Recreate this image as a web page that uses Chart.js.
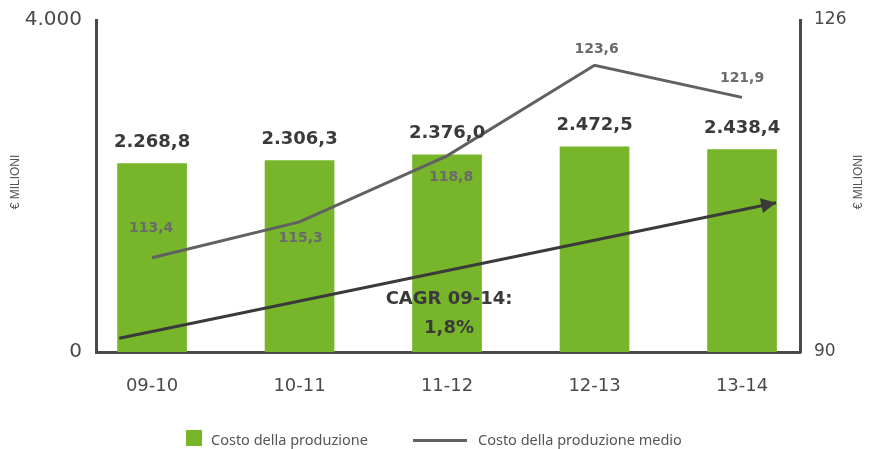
<!DOCTYPE html>
<html>
<head>
<meta charset="utf-8">
<script src="https://cdn.jsdelivr.net/npm/chart.js@4.4.1/dist/chart.umd.min.js"></script>
<style>
  html, body { margin: 0; padding: 0; background: #fff; }
  #wrap { position: relative; width: 869px; height: 449px; }
  .leg { position: absolute; font: 14.5px 'Noto Sans', sans-serif; color: #555; line-height: 20px; }
  .sq { position: absolute; left: 186px; top: 430px; width: 16px; height: 16px; background: #77b52a; }
  .ln { position: absolute; left: 413px; top: 439px; width: 54px; height: 3px; background: #616161; }
</style>
</head>
<body>
<div id="wrap">
  <canvas id="chart" width="869" height="449"></canvas>
  <div class="sq"></div>
  <div class="leg" style="left:211px;top:429px;">Costo della produzione</div>
  <div class="ln"></div>
  <div class="leg" style="left:478px;top:429px;">Costo della produzione medio</div>
</div>
<script>
// dati
const periodi = ['09-10', '10-11', '11-12', '12-13', '13-14'];
const costoProduzione = [2268.8, 2306.3, 2376.0, 2472.5, 2438.4];
const costoMedio = [113.4, 115.3, 118.8, 123.6, 121.9];
const tickSinistra = [0, 4000];
const tickDestra = [90, 126];
// freccia CAGR (in unità dei dati)
const cagrInizio = { x: -0.222, y: 165 };
const cagrFine = { x: 4.231, y: 1799 };
const cagrTesto = ['CAGR 09-14:', '1,8%'];

const COLORI = {
  verde: '#77b52a',
  linea: '#616161',
  scuro: '#3a3a3a',
  assi: '#4a4a4a',
  etichettaLinea: '#6a6a6a',
  testo: '#555'
};

// formato italiano: 2.268,8
function fmt(v, dec) {
  const parts = v.toFixed(dec).split('.');
  parts[0] = parts[0].replace(/\B(?=(\d{3})+(?!\d))/g, '.');
  return parts.join(',');
}

// spostamenti etichette della linea rispetto ai punti
const dxLinea = [-1, 1, 4, 2, 0];
const dyLinea = [-29, 17, 22, -16, -19];

const etichette = {
  id: 'etichette',
  afterDatasetsDraw(chart) {
    const ctx = chart.ctx;
    ctx.save();
    ctx.textAlign = 'center';
    ctx.textBaseline = 'middle';

    // valori sopra le barre
    ctx.font = 'bold 18px "DejaVu Sans"';
    ctx.fillStyle = COLORI.scuro;
    chart.getDatasetMeta(0).data.forEach((bar, i) => {
      ctx.fillText(fmt(costoProduzione[i], 1), bar.x, bar.y - 21);
    });

    // valori della linea
    ctx.font = 'bold 14px "DejaVu Sans"';
    ctx.fillStyle = COLORI.etichettaLinea;
    chart.getDatasetMeta(1).data.forEach((p, i) => {
      ctx.fillText(fmt(costoMedio[i], 1), p.x + dxLinea[i], p.y + dyLinea[i]);
    });

    // punta della freccia
    const pts = chart.getDatasetMeta(2).data;
    const a = pts[0], b = pts[1];
    const ang = Math.atan2(b.y - a.y, b.x - a.x);
    ctx.fillStyle = COLORI.scuro;
    ctx.translate(b.x, b.y);
    ctx.rotate(ang);
    ctx.beginPath();
    ctx.moveTo(0, 0);
    ctx.lineTo(-15, -7.5);
    ctx.lineTo(-15, 7.5);
    ctx.closePath();
    ctx.fill();
    ctx.setTransform(1, 0, 0, 1, 0, 0);

    // testo CAGR
    const sx = chart.scales.x, sy = chart.scales.y;
    ctx.font = 'bold 18px "DejaVu Sans"';
    ctx.fillStyle = COLORI.scuro;
    const cx = sx.getPixelForValue(2) + 2;
    const cy = sy.getPixelForValue(630);
    ctx.fillText(cagrTesto[0], cx, cy);
    ctx.fillText(cagrTesto[1], cx, cy + 29);

    // titoli degli assi
    ctx.font = '12px "Liberation Sans"';
    ctx.fillStyle = COLORI.testo;
    const midY = (chart.chartArea.top + chart.chartArea.bottom) / 2 - 4;
    [16, 859].forEach(x => {
      ctx.save();
      ctx.translate(x, midY);
      ctx.rotate(-Math.PI / 2);
      ctx.fillText('€ MILIONI', 0, 0);
      ctx.restore();
    });
    ctx.restore();
  }
};

const bordo = { display: true, color: COLORI.assi, width: 3 };

// dimensioni fisse degli assi, senza margini per le etichette
function fissa(prop, val) {
  return s => {
    s[prop] = val;
    s.paddingTop = 0; s.paddingBottom = 0;
    s.paddingLeft = 0; s.paddingRight = 0;
  };
}

new Chart(document.getElementById('chart'), {
  type: 'bar',
  data: {
    datasets: [
      {
        label: 'Costo della produzione',
        data: periodi.map((_, i) => ({ x: i, y: costoProduzione[i] })),
        backgroundColor: COLORI.verde,
        barThickness: 69,
        yAxisID: 'y',
        order: 3
      },
      {
        type: 'line',
        label: 'Costo della produzione medio',
        data: periodi.map((_, i) => ({ x: i, y: costoMedio[i] })),
        borderColor: COLORI.linea,
        borderWidth: 3,
        pointRadius: 0,
        tension: 0,
        yAxisID: 'y2',
        order: 1
      },
      {
        type: 'line',
        label: 'CAGR',
        data: [cagrInizio, cagrFine],
        borderColor: COLORI.scuro,
        borderWidth: 3,
        pointRadius: 0,
        yAxisID: 'y',
        order: 2
      }
    ]
  },
  options: {
    responsive: false,
    animation: false,
    layout: { padding: { top: 20, left: 0, right: 0, bottom: 0 } },
    plugins: {
      legend: { display: false },
      tooltip: { enabled: false }
    },
    scales: {
      x: {
        type: 'linear',
        offset: false,
        min: -0.38,
        max: 4.393,
        grid: { display: false, drawTicks: false },
        border: bordo,
        afterBuildTicks: s => { s.ticks = periodi.map((_, i) => ({ value: i })); },
        afterFit: fissa('height', 97),
        ticks: {
          padding: 24,
          color: COLORI.assi,
          font: { family: 'DejaVu Sans', size: 18 },
          callback: v => periodi[v] ?? ''
        }
      },
      y: {
        position: 'left',
        min: 0,
        max: 4000,
        grid: { display: false, drawTicks: false },
        border: bordo,
        afterBuildTicks: s => { s.ticks = tickSinistra.map(v => ({ value: v })); },
        afterFit: fissa('width', 96),
        ticks: {
          padding: 14,
          color: COLORI.assi,
          font: { family: 'DejaVu Sans', size: 20 },
          callback: v => fmt(v, 0)
        }
      },
      y1: {
        position: 'right',
        min: 90,
        max: 126,
        grid: { display: false, drawTicks: false },
        border: bordo,
        afterBuildTicks: s => { s.ticks = tickDestra.map(v => ({ value: v })); },
        afterFit: fissa('width', 69),
        ticks: {
          padding: 14,
          color: COLORI.assi,
          font: { family: 'DejaVu Sans', size: 17 }
        }
      },
      y2: {
        position: 'right',
        display: false,
        min: 108.4,
        max: 126
      }
    }
  },
  plugins: [etichette]
});
</script>
</body>
</html>
